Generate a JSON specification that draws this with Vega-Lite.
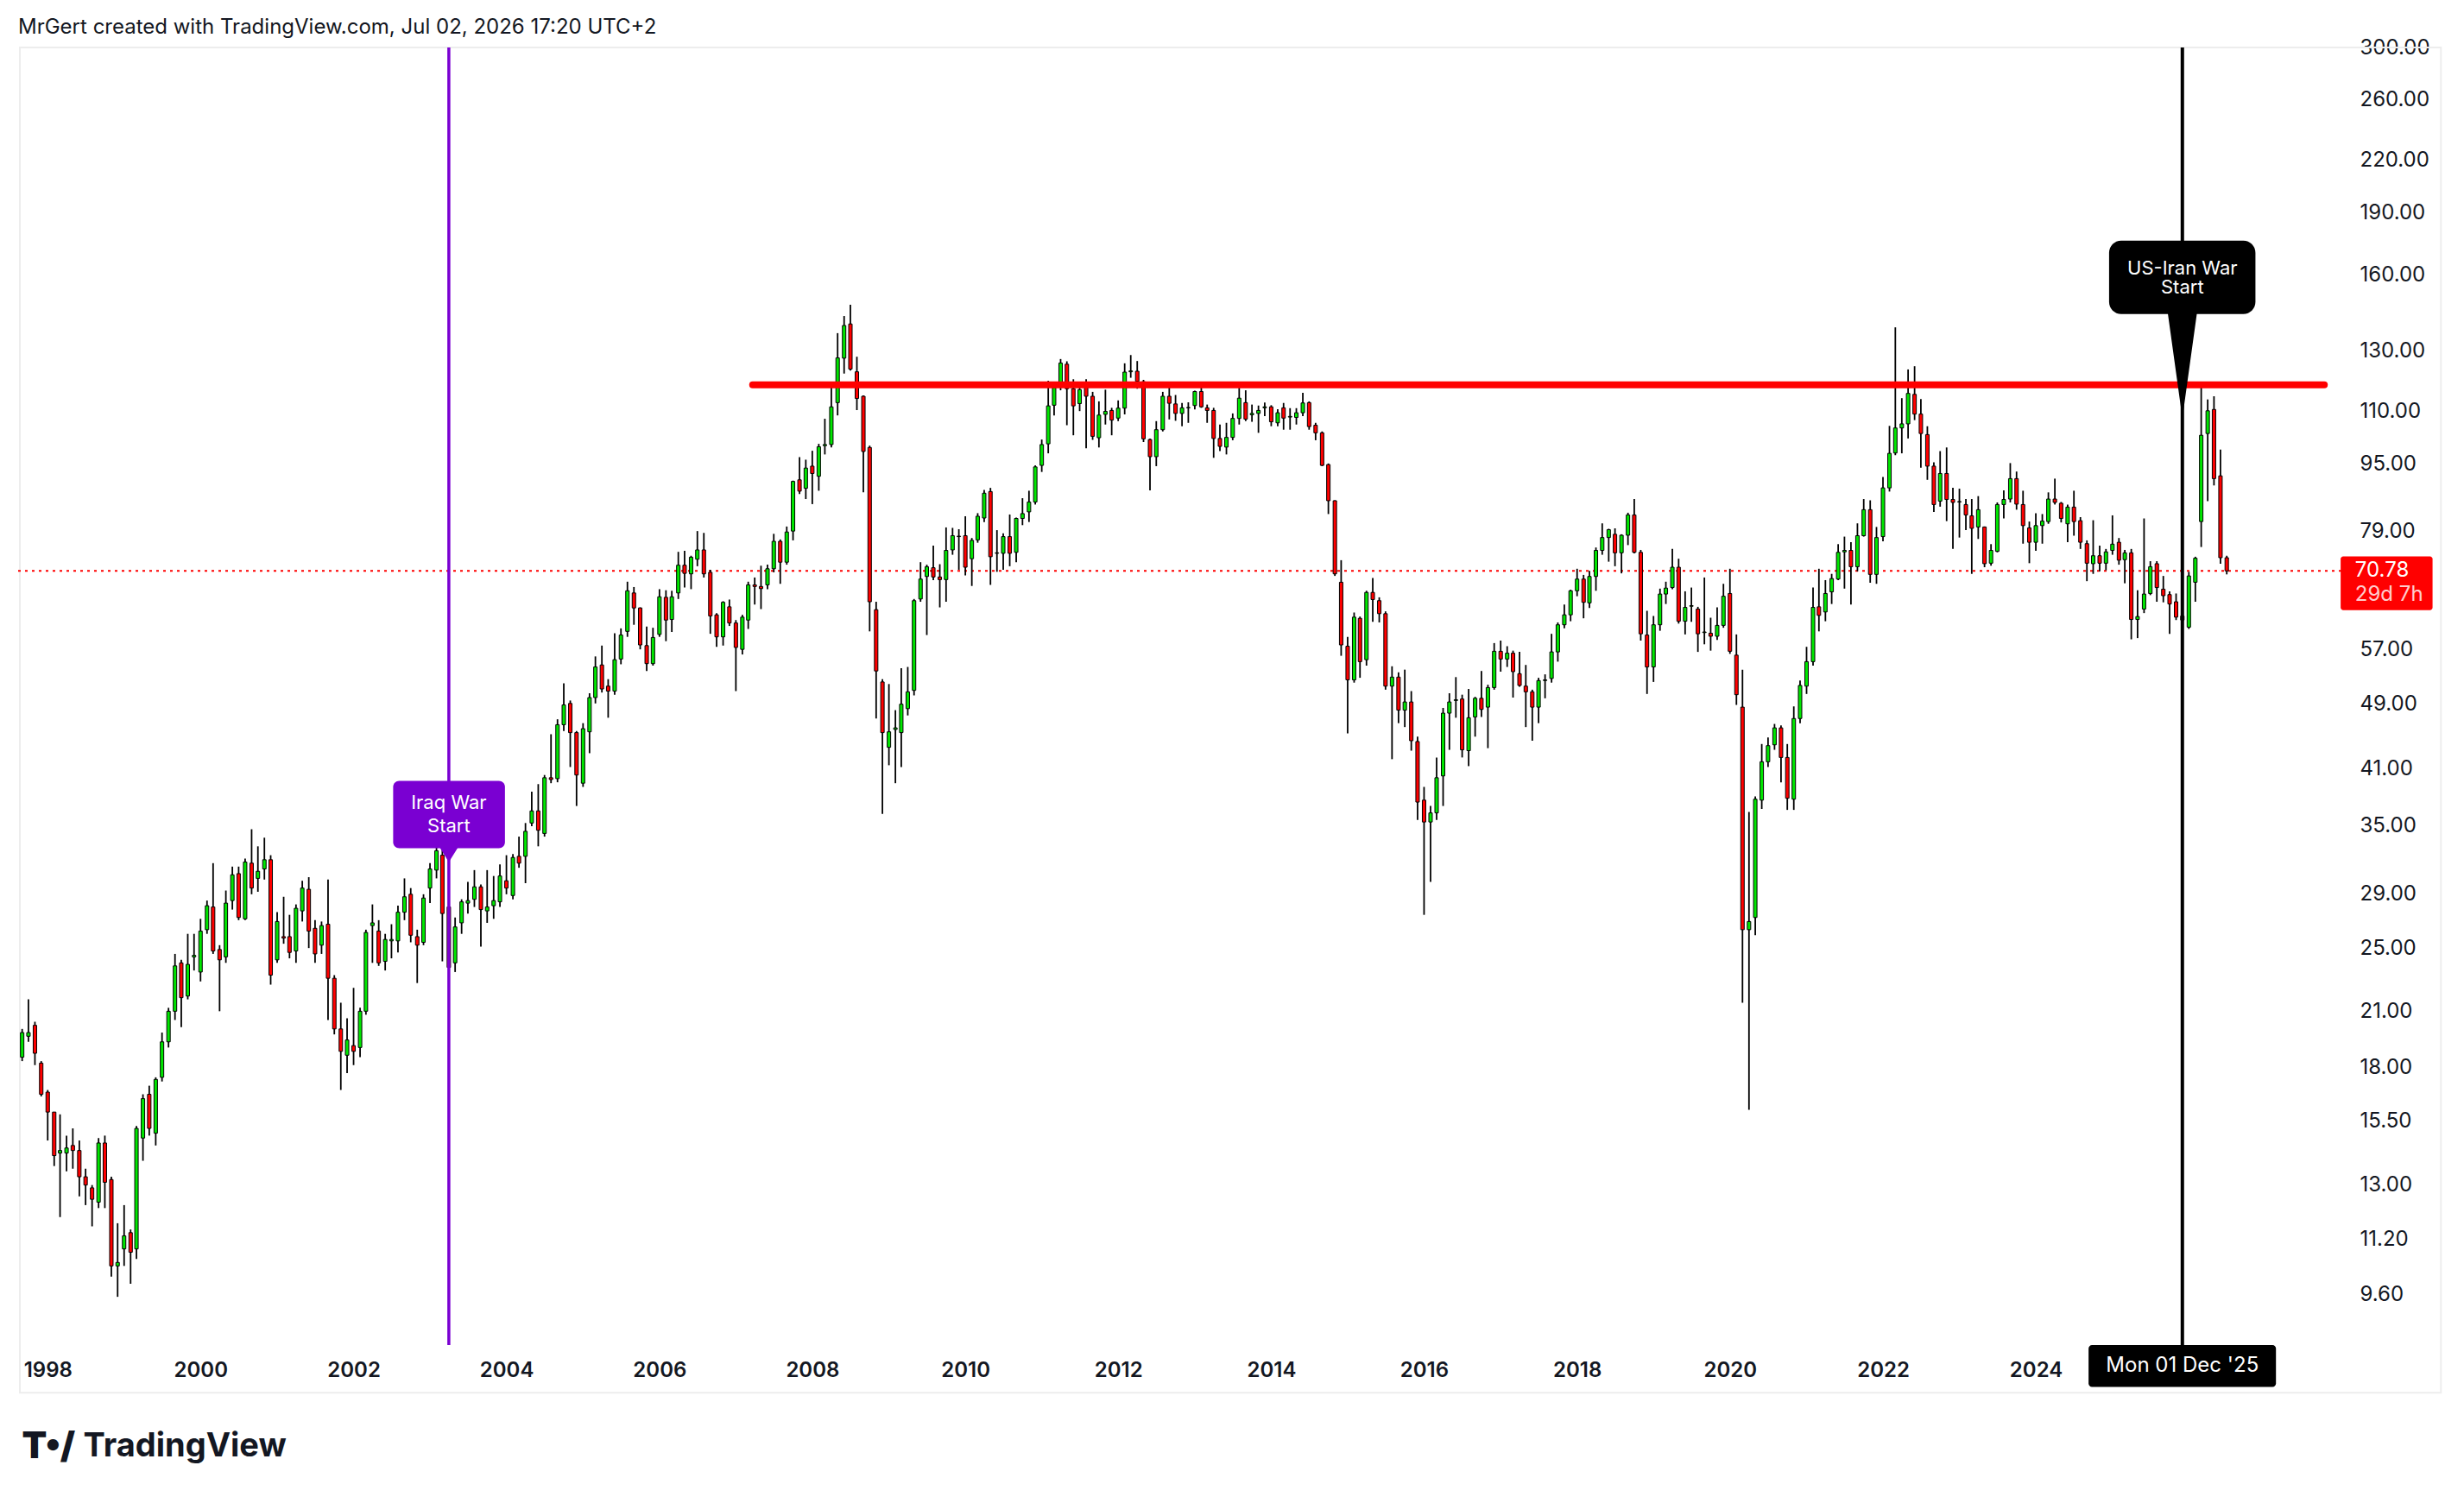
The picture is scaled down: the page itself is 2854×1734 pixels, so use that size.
{
  "$schema": "https://vega.github.io/schema/vega-lite/v6.json",
  "width": 2694,
  "height": 1503,
  "autosize": {"type": "none"},
  "padding": {"left": 18, "top": 55, "right": 142, "bottom": 176},
  "background": "#ffffff",
  "config": {"view": {"stroke": null}, "font": "Inter"},
  "title": {
    "text": "MrGert created with TradingView.com, Jul 02, 2026 17:20 UTC+2",
    "anchor": "start",
    "frame": "group",
    "font": "Inter",
    "fontSize": 24,
    "fontWeight": "normal",
    "color": "#131722",
    "offset": -1,
    "dx": 3
  },
  "datasets": {
    "ohlc": [
      {"t":"1997-09-01","o":18.5,"h":20.0,"l":18.3,"c":19.8},
      {"t":"1997-10-01","o":19.6,"h":21.7,"l":19.3,"c":19.8},
      {"t":"1997-11-01","o":20.2,"h":20.4,"l":18.1,"c":18.7},
      {"t":"1997-12-01","o":18.2,"h":18.3,"l":16.6,"c":16.7},
      {"t":"1998-01-01","o":16.8,"h":16.9,"l":14.7,"c":15.9},
      {"t":"1998-02-01","o":15.9,"h":15.9,"l":13.7,"c":14.1},
      {"t":"1998-03-01","o":14.2,"h":15.8,"l":11.9,"c":14.3},
      {"t":"1998-04-01","o":14.2,"h":14.9,"l":13.5,"c":14.4},
      {"t":"1998-05-01","o":14.5,"h":15.2,"l":13.6,"c":14.3},
      {"t":"1998-06-01","o":14.3,"h":14.7,"l":12.6,"c":13.3},
      {"t":"1998-07-01","o":13.3,"h":13.6,"l":12.3,"c":13.0},
      {"t":"1998-08-01","o":12.9,"h":13.0,"l":11.6,"c":12.5},
      {"t":"1998-09-01","o":12.4,"h":14.8,"l":12.2,"c":14.6},
      {"t":"1998-10-01","o":14.6,"h":14.9,"l":12.2,"c":13.1},
      {"t":"1998-11-01","o":13.2,"h":13.3,"l":10.1,"c":10.4},
      {"t":"1998-12-01","o":10.4,"h":11.7,"l":9.55,"c":10.5},
      {"t":"1999-01-01","o":10.9,"h":12.3,"l":10.4,"c":11.3},
      {"t":"1999-02-01","o":11.4,"h":11.5,"l":9.9,"c":10.8},
      {"t":"1999-03-01","o":10.9,"h":15.3,"l":10.6,"c":15.2},
      {"t":"1999-04-01","o":14.8,"h":16.7,"l":13.9,"c":16.5},
      {"t":"1999-05-01","o":16.7,"h":17.1,"l":14.9,"c":15.2},
      {"t":"1999-06-01","o":15.0,"h":17.5,"l":14.5,"c":17.4},
      {"t":"1999-07-01","o":17.5,"h":19.8,"l":17.3,"c":19.3},
      {"t":"1999-08-01","o":19.3,"h":21.2,"l":19.0,"c":21.0},
      {"t":"1999-09-01","o":21.0,"h":24.6,"l":20.5,"c":23.8},
      {"t":"1999-10-01","o":24.0,"h":24.2,"l":20.1,"c":21.8},
      {"t":"1999-11-01","o":21.9,"h":26.0,"l":21.7,"c":23.9},
      {"t":"1999-12-01","o":24.4,"h":26.0,"l":23.5,"c":24.5},
      {"t":"2000-01-01","o":23.4,"h":27.1,"l":22.8,"c":26.2},
      {"t":"2000-02-01","o":26.3,"h":28.5,"l":26.0,"c":28.1},
      {"t":"2000-03-01","o":28.0,"h":31.6,"l":24.6,"c":24.8},
      {"t":"2000-04-01","o":24.9,"h":25.2,"l":21.0,"c":24.2},
      {"t":"2000-05-01","o":24.4,"h":29.3,"l":24.0,"c":28.3},
      {"t":"2000-06-01","o":28.5,"h":31.3,"l":27.8,"c":30.6},
      {"t":"2000-07-01","o":30.7,"h":31.3,"l":27.0,"c":27.2},
      {"t":"2000-08-01","o":27.1,"h":32.0,"l":27.0,"c":31.7},
      {"t":"2000-09-01","o":31.6,"h":34.7,"l":29.0,"c":29.5},
      {"t":"2000-10-01","o":30.3,"h":33.1,"l":29.2,"c":30.9},
      {"t":"2000-11-01","o":31.1,"h":33.9,"l":30.2,"c":31.9},
      {"t":"2000-12-01","o":31.9,"h":32.3,"l":22.6,"c":23.2},
      {"t":"2001-01-01","o":24.2,"h":27.6,"l":24.0,"c":26.9},
      {"t":"2001-02-01","o":25.8,"h":28.8,"l":25.3,"c":25.7},
      {"t":"2001-03-01","o":25.8,"h":27.4,"l":24.3,"c":24.7},
      {"t":"2001-04-01","o":24.8,"h":28.2,"l":24.0,"c":27.9},
      {"t":"2001-05-01","o":27.7,"h":30.1,"l":26.9,"c":29.5},
      {"t":"2001-06-01","o":29.4,"h":30.4,"l":25.0,"c":26.2},
      {"t":"2001-07-01","o":26.4,"h":27.0,"l":24.0,"c":24.6},
      {"t":"2001-08-01","o":25.2,"h":26.9,"l":24.6,"c":26.6},
      {"t":"2001-09-01","o":26.7,"h":30.2,"l":20.5,"c":23.0},
      {"t":"2001-10-01","o":23.0,"h":23.2,"l":19.7,"c":20.0},
      {"t":"2001-11-01","o":20.0,"h":21.5,"l":16.9,"c":18.8},
      {"t":"2001-12-01","o":18.6,"h":20.6,"l":17.7,"c":19.4},
      {"t":"2002-01-01","o":19.1,"h":22.4,"l":18.1,"c":18.8},
      {"t":"2002-02-01","o":19.0,"h":21.2,"l":18.5,"c":21.0},
      {"t":"2002-03-01","o":21.0,"h":26.3,"l":20.8,"c":26.1},
      {"t":"2002-04-01","o":26.6,"h":28.2,"l":24.0,"c":26.8},
      {"t":"2002-05-01","o":26.2,"h":27.0,"l":23.8,"c":24.0},
      {"t":"2002-06-01","o":24.1,"h":26.0,"l":23.5,"c":25.6},
      {"t":"2002-07-01","o":25.5,"h":26.7,"l":24.3,"c":25.6},
      {"t":"2002-08-01","o":25.5,"h":28.1,"l":24.7,"c":27.6},
      {"t":"2002-09-01","o":27.6,"h":30.3,"l":27.0,"c":28.8},
      {"t":"2002-10-01","o":29.0,"h":29.5,"l":25.4,"c":25.9},
      {"t":"2002-11-01","o":25.8,"h":26.3,"l":22.7,"c":25.2},
      {"t":"2002-12-01","o":25.4,"h":29.0,"l":25.2,"c":28.7},
      {"t":"2003-01-01","o":29.5,"h":31.6,"l":28.3,"c":31.1},
      {"t":"2003-02-01","o":31.0,"h":33.8,"l":30.3,"c":32.7},
      {"t":"2003-03-01","o":32.3,"h":34.6,"l":24.1,"c":27.5},
      {"t":"2003-04-01","o":28.0,"h":28.3,"l":23.1,"c":23.7},
      {"t":"2003-05-01","o":24.0,"h":27.2,"l":23.4,"c":26.5},
      {"t":"2003-06-01","o":26.8,"h":28.6,"l":26.0,"c":28.4},
      {"t":"2003-07-01","o":28.3,"h":30.0,"l":27.5,"c":28.5},
      {"t":"2003-08-01","o":28.6,"h":31.0,"l":28.0,"c":29.6},
      {"t":"2003-09-01","o":29.6,"h":29.8,"l":25.1,"c":27.8},
      {"t":"2003-10-01","o":27.7,"h":31.0,"l":26.8,"c":28.0},
      {"t":"2003-11-01","o":28.1,"h":30.5,"l":27.1,"c":28.5},
      {"t":"2003-12-01","o":28.4,"h":31.5,"l":28.0,"c":30.5},
      {"t":"2004-01-01","o":30.1,"h":32.3,"l":29.0,"c":29.5},
      {"t":"2004-02-01","o":28.9,"h":32.4,"l":28.6,"c":32.1},
      {"t":"2004-03-01","o":32.2,"h":34.0,"l":31.2,"c":31.6},
      {"t":"2004-04-01","o":32.2,"h":35.3,"l":29.9,"c":34.5},
      {"t":"2004-05-01","o":35.3,"h":38.5,"l":35.0,"c":36.5},
      {"t":"2004-06-01","o":36.5,"h":39.3,"l":33.1,"c":34.6},
      {"t":"2004-07-01","o":34.3,"h":40.3,"l":34.0,"c":40.0},
      {"t":"2004-08-01","o":40.0,"h":45.1,"l":39.4,"c":39.8},
      {"t":"2004-09-01","o":39.9,"h":47.0,"l":39.5,"c":46.3},
      {"t":"2004-10-01","o":46.3,"h":51.9,"l":45.5,"c":48.9},
      {"t":"2004-11-01","o":49.1,"h":49.5,"l":41.2,"c":45.3},
      {"t":"2004-12-01","o":45.3,"h":45.5,"l":37.0,"c":40.3},
      {"t":"2005-01-01","o":39.4,"h":46.5,"l":39.0,"c":45.8},
      {"t":"2005-02-01","o":45.4,"h":50.5,"l":42.8,"c":49.9},
      {"t":"2005-03-01","o":49.9,"h":55.9,"l":49.1,"c":54.3},
      {"t":"2005-04-01","o":54.6,"h":57.6,"l":50.6,"c":51.1},
      {"t":"2005-05-01","o":51.5,"h":52.5,"l":47.2,"c":50.8},
      {"t":"2005-06-01","o":50.8,"h":59.6,"l":50.3,"c":55.4},
      {"t":"2005-07-01","o":55.5,"h":60.4,"l":54.7,"c":59.3},
      {"t":"2005-08-01","o":59.9,"h":68.7,"l":59.0,"c":67.0},
      {"t":"2005-09-01","o":66.6,"h":67.7,"l":61.0,"c":63.9},
      {"t":"2005-10-01","o":63.9,"h":64.0,"l":57.0,"c":57.7},
      {"t":"2005-11-01","o":57.6,"h":60.7,"l":53.7,"c":54.8},
      {"t":"2005-12-01","o":54.8,"h":60.5,"l":54.5,"c":58.9},
      {"t":"2006-01-01","o":59.4,"h":67.3,"l":59.0,"c":65.9},
      {"t":"2006-02-01","o":65.8,"h":67.1,"l":58.3,"c":61.8},
      {"t":"2006-03-01","o":61.9,"h":67.0,"l":59.8,"c":65.9},
      {"t":"2006-04-01","o":66.6,"h":74.6,"l":65.5,"c":71.9},
      {"t":"2006-05-01","o":71.9,"h":74.8,"l":67.6,"c":70.3},
      {"t":"2006-06-01","o":70.2,"h":73.8,"l":67.3,"c":73.5},
      {"t":"2006-07-01","o":73.1,"h":79.0,"l":71.7,"c":75.0},
      {"t":"2006-08-01","o":75.0,"h":78.6,"l":69.5,"c":70.2},
      {"t":"2006-09-01","o":70.5,"h":71.0,"l":59.5,"c":62.5},
      {"t":"2006-10-01","o":62.7,"h":63.0,"l":57.4,"c":59.0},
      {"t":"2006-11-01","o":59.0,"h":65.1,"l":57.6,"c":64.9},
      {"t":"2006-12-01","o":64.1,"h":65.4,"l":60.8,"c":61.3},
      {"t":"2007-01-01","o":61.3,"h":61.8,"l":50.8,"c":57.3},
      {"t":"2007-02-01","o":57.0,"h":62.7,"l":56.2,"c":62.3},
      {"t":"2007-03-01","o":61.8,"h":68.7,"l":60.3,"c":68.1},
      {"t":"2007-04-01","o":68.1,"h":69.5,"l":64.5,"c":67.8},
      {"t":"2007-05-01","o":67.8,"h":71.8,"l":63.7,"c":67.4},
      {"t":"2007-06-01","o":68.1,"h":72.0,"l":67.3,"c":71.2},
      {"t":"2007-07-01","o":71.2,"h":78.4,"l":70.5,"c":76.8},
      {"t":"2007-08-01","o":76.8,"h":77.2,"l":68.3,"c":72.5},
      {"t":"2007-09-01","o":72.5,"h":80.0,"l":72.0,"c":78.8},
      {"t":"2007-10-01","o":79.0,"h":90.8,"l":77.0,"c":90.6},
      {"t":"2007-11-01","o":91.0,"h":96.9,"l":87.5,"c":88.2},
      {"t":"2007-12-01","o":88.9,"h":96.2,"l":86.3,"c":94.0},
      {"t":"2008-01-01","o":94.5,"h":98.6,"l":85.1,"c":92.6},
      {"t":"2008-02-01","o":91.9,"h":100.5,"l":88.3,"c":99.7},
      {"t":"2008-03-01","o":100.0,"h":107.7,"l":97.6,"c":100.3},
      {"t":"2008-04-01","o":100.3,"h":117.9,"l":99.5,"c":111.3},
      {"t":"2008-05-01","o":112.6,"h":136.4,"l":108.7,"c":127.4},
      {"t":"2008-06-01","o":127.3,"h":143.0,"l":122.0,"c":139.3},
      {"t":"2008-07-01","o":139.9,"h":147.5,"l":123.0,"c":123.5},
      {"t":"2008-08-01","o":122.6,"h":127.8,"l":110.3,"c":113.9},
      {"t":"2008-09-01","o":114.6,"h":114.9,"l":87.9,"c":98.4},
      {"t":"2008-10-01","o":99.5,"h":100.0,"l":59.9,"c":65.0},
      {"t":"2008-11-01","o":63.6,"h":65.0,"l":47.1,"c":53.7},
      {"t":"2008-12-01","o":52.1,"h":52.5,"l":36.2,"c":45.3},
      {"t":"2009-01-01","o":43.5,"h":51.8,"l":41.4,"c":45.4},
      {"t":"2009-02-01","o":45.7,"h":48.2,"l":39.4,"c":45.9},
      {"t":"2009-03-01","o":45.3,"h":54.1,"l":41.2,"c":49.0},
      {"t":"2009-04-01","o":48.4,"h":54.3,"l":47.5,"c":50.7},
      {"t":"2009-05-01","o":50.9,"h":65.5,"l":50.2,"c":65.2},
      {"t":"2009-06-01","o":65.5,"h":72.5,"l":65.0,"c":69.2},
      {"t":"2009-07-01","o":69.7,"h":72.0,"l":59.3,"c":71.6},
      {"t":"2009-08-01","o":71.4,"h":75.9,"l":69.0,"c":69.6},
      {"t":"2009-09-01","o":69.6,"h":72.1,"l":64.0,"c":69.1},
      {"t":"2009-10-01","o":69.1,"h":79.8,"l":65.0,"c":74.9},
      {"t":"2009-11-01","o":75.0,"h":79.7,"l":74.0,"c":78.0},
      {"t":"2009-12-01","o":77.9,"h":79.4,"l":71.0,"c":77.8},
      {"t":"2010-01-01","o":78.0,"h":82.3,"l":69.9,"c":71.5},
      {"t":"2010-02-01","o":73.2,"h":77.5,"l":67.9,"c":77.0},
      {"t":"2010-03-01","o":77.1,"h":83.0,"l":76.5,"c":82.3},
      {"t":"2010-04-01","o":81.9,"h":88.5,"l":81.0,"c":87.7},
      {"t":"2010-05-01","o":88.1,"h":89.0,"l":68.1,"c":73.6},
      {"t":"2010-06-01","o":74.3,"h":79.2,"l":70.6,"c":74.4},
      {"t":"2010-07-01","o":74.3,"h":78.5,"l":71.0,"c":77.8},
      {"t":"2010-08-01","o":77.8,"h":82.7,"l":71.7,"c":74.3},
      {"t":"2010-09-01","o":74.5,"h":82.0,"l":72.5,"c":81.8},
      {"t":"2010-10-01","o":81.8,"h":86.5,"l":80.3,"c":82.9},
      {"t":"2010-11-01","o":83.3,"h":88.3,"l":81.0,"c":85.6},
      {"t":"2010-12-01","o":85.6,"h":94.7,"l":85.0,"c":94.3},
      {"t":"2011-01-01","o":94.7,"h":101.7,"l":93.0,"c":100.3},
      {"t":"2011-02-01","o":100.5,"h":119.6,"l":97.9,"c":111.6},
      {"t":"2011-03-01","o":111.8,"h":118.0,"l":108.7,"c":117.4},
      {"t":"2011-04-01","o":117.9,"h":127.0,"l":116.5,"c":125.6},
      {"t":"2011-05-01","o":125.2,"h":126.2,"l":105.8,"c":117.0},
      {"t":"2011-06-01","o":117.0,"h":120.1,"l":102.9,"c":111.6},
      {"t":"2011-07-01","o":112.3,"h":119.0,"l":110.0,"c":116.7},
      {"t":"2011-08-01","o":118.1,"h":120.1,"l":99.3,"c":114.6},
      {"t":"2011-09-01","o":114.6,"h":116.0,"l":101.6,"c":102.6},
      {"t":"2011-10-01","o":102.2,"h":113.0,"l":99.5,"c":108.8},
      {"t":"2011-11-01","o":109.0,"h":116.7,"l":106.0,"c":109.9},
      {"t":"2011-12-01","o":110.2,"h":111.0,"l":102.9,"c":107.3},
      {"t":"2012-01-01","o":107.9,"h":113.3,"l":107.0,"c":110.9},
      {"t":"2012-02-01","o":110.9,"h":125.5,"l":109.0,"c":122.5},
      {"t":"2012-03-01","o":122.6,"h":128.4,"l":120.6,"c":122.9},
      {"t":"2012-04-01","o":122.8,"h":126.3,"l":117.0,"c":119.4},
      {"t":"2012-05-01","o":119.3,"h":119.9,"l":101.0,"c":101.9},
      {"t":"2012-06-01","o":101.7,"h":102.0,"l":88.4,"c":97.0},
      {"t":"2012-07-01","o":97.0,"h":107.0,"l":94.5,"c":104.5},
      {"t":"2012-08-01","o":104.5,"h":116.0,"l":104.0,"c":114.6},
      {"t":"2012-09-01","o":114.6,"h":117.9,"l":107.5,"c":112.4},
      {"t":"2012-10-01","o":112.2,"h":115.0,"l":107.1,"c":109.3},
      {"t":"2012-11-01","o":109.3,"h":112.5,"l":105.5,"c":111.0},
      {"t":"2012-12-01","o":111.0,"h":112.7,"l":106.5,"c":111.1},
      {"t":"2013-01-01","o":111.7,"h":116.4,"l":110.5,"c":116.1},
      {"t":"2013-02-01","o":116.1,"h":119.2,"l":111.0,"c":111.3},
      {"t":"2013-03-01","o":111.0,"h":112.0,"l":106.5,"c":110.2},
      {"t":"2013-04-01","o":110.2,"h":111.0,"l":96.7,"c":102.0},
      {"t":"2013-05-01","o":102.0,"h":106.0,"l":98.5,"c":99.8},
      {"t":"2013-06-01","o":99.6,"h":106.5,"l":97.6,"c":102.3},
      {"t":"2013-07-01","o":102.3,"h":109.3,"l":101.5,"c":107.8},
      {"t":"2013-08-01","o":107.8,"h":117.3,"l":106.0,"c":114.0},
      {"t":"2013-09-01","o":112.6,"h":116.5,"l":107.0,"c":107.6},
      {"t":"2013-10-01","o":108.9,"h":112.0,"l":106.8,"c":109.3},
      {"t":"2013-11-01","o":109.3,"h":111.7,"l":103.6,"c":110.2},
      {"t":"2013-12-01","o":111.0,"h":112.6,"l":108.5,"c":111.3},
      {"t":"2014-01-01","o":111.3,"h":111.8,"l":105.5,"c":106.8},
      {"t":"2014-02-01","o":106.5,"h":110.6,"l":105.5,"c":109.5},
      {"t":"2014-03-01","o":111.0,"h":112.5,"l":104.5,"c":107.9},
      {"t":"2014-04-01","o":108.2,"h":110.9,"l":104.5,"c":108.4},
      {"t":"2014-05-01","o":108.1,"h":110.9,"l":106.0,"c":109.5},
      {"t":"2014-06-01","o":109.5,"h":115.7,"l":108.5,"c":112.5},
      {"t":"2014-07-01","o":112.6,"h":113.0,"l":104.5,"c":105.4},
      {"t":"2014-08-01","o":105.8,"h":106.5,"l":101.5,"c":103.6},
      {"t":"2014-09-01","o":103.6,"h":104.0,"l":94.5,"c":94.7},
      {"t":"2014-10-01","o":94.9,"h":95.2,"l":82.8,"c":85.9},
      {"t":"2014-11-01","o":85.9,"h":86.0,"l":69.8,"c":70.2},
      {"t":"2014-12-01","o":68.6,"h":72.9,"l":56.0,"c":57.7},
      {"t":"2015-01-01","o":57.5,"h":59.0,"l":45.2,"c":52.4},
      {"t":"2015-02-01","o":52.4,"h":63.1,"l":52.0,"c":62.3},
      {"t":"2015-03-01","o":62.1,"h":62.4,"l":52.7,"c":55.1},
      {"t":"2015-04-01","o":55.4,"h":67.0,"l":54.5,"c":66.7},
      {"t":"2015-05-01","o":66.7,"h":69.4,"l":61.5,"c":65.4},
      {"t":"2015-06-01","o":65.2,"h":65.8,"l":61.4,"c":62.9},
      {"t":"2015-07-01","o":62.9,"h":63.3,"l":51.0,"c":51.5},
      {"t":"2015-08-01","o":51.5,"h":54.4,"l":42.1,"c":52.8},
      {"t":"2015-09-01","o":52.8,"h":53.5,"l":46.5,"c":48.2},
      {"t":"2015-10-01","o":48.2,"h":53.9,"l":46.0,"c":49.3},
      {"t":"2015-11-01","o":49.3,"h":50.8,"l":43.1,"c":44.3},
      {"t":"2015-12-01","o":44.2,"h":44.8,"l":35.6,"c":37.4},
      {"t":"2016-01-01","o":37.6,"h":39.0,"l":27.4,"c":35.4},
      {"t":"2016-02-01","o":35.4,"h":37.0,"l":30.0,"c":36.3},
      {"t":"2016-03-01","o":36.3,"h":42.3,"l":35.6,"c":40.0},
      {"t":"2016-04-01","o":40.2,"h":48.5,"l":37.0,"c":47.8},
      {"t":"2016-05-01","o":47.8,"h":50.5,"l":43.2,"c":49.3},
      {"t":"2016-06-01","o":49.5,"h":52.8,"l":47.2,"c":49.6},
      {"t":"2016-07-01","o":49.7,"h":50.3,"l":42.3,"c":43.2},
      {"t":"2016-08-01","o":43.1,"h":51.1,"l":41.3,"c":47.2},
      {"t":"2016-09-01","o":47.3,"h":50.0,"l":44.8,"c":49.8},
      {"t":"2016-10-01","o":49.8,"h":53.7,"l":47.3,"c":48.3},
      {"t":"2016-11-01","o":48.6,"h":51.7,"l":43.4,"c":51.3},
      {"t":"2016-12-01","o":51.3,"h":58.0,"l":51.0,"c":56.7},
      {"t":"2017-01-01","o":56.7,"h":58.4,"l":53.6,"c":55.5},
      {"t":"2017-02-01","o":55.5,"h":57.5,"l":54.3,"c":56.4},
      {"t":"2017-03-01","o":56.4,"h":56.8,"l":49.9,"c":53.6},
      {"t":"2017-04-01","o":53.3,"h":56.6,"l":51.4,"c":51.6},
      {"t":"2017-05-01","o":51.5,"h":54.6,"l":46.0,"c":50.7},
      {"t":"2017-06-01","o":50.7,"h":51.0,"l":44.3,"c":48.6},
      {"t":"2017-07-01","o":48.6,"h":52.7,"l":46.5,"c":52.3},
      {"t":"2017-08-01","o":52.3,"h":53.2,"l":49.8,"c":52.4},
      {"t":"2017-09-01","o":52.6,"h":59.5,"l":52.0,"c":56.6},
      {"t":"2017-10-01","o":56.6,"h":61.4,"l":55.1,"c":61.0},
      {"t":"2017-11-01","o":61.0,"h":64.5,"l":60.4,"c":62.7},
      {"t":"2017-12-01","o":62.7,"h":67.2,"l":61.6,"c":67.0},
      {"t":"2018-01-01","o":67.0,"h":71.2,"l":66.0,"c":69.2},
      {"t":"2018-02-01","o":69.2,"h":70.0,"l":62.1,"c":64.9},
      {"t":"2018-03-01","o":64.8,"h":70.8,"l":63.9,"c":69.7},
      {"t":"2018-04-01","o":69.7,"h":75.5,"l":67.0,"c":74.9},
      {"t":"2018-05-01","o":74.9,"h":80.7,"l":74.0,"c":77.6},
      {"t":"2018-06-01","o":77.6,"h":79.5,"l":72.6,"c":79.3},
      {"t":"2018-07-01","o":78.3,"h":79.6,"l":71.7,"c":74.4},
      {"t":"2018-08-01","o":74.4,"h":78.3,"l":70.3,"c":78.1},
      {"t":"2018-09-01","o":78.1,"h":83.1,"l":76.0,"c":82.6},
      {"t":"2018-10-01","o":82.6,"h":86.3,"l":74.3,"c":74.5},
      {"t":"2018-11-01","o":74.5,"h":75.0,"l":58.4,"c":59.5},
      {"t":"2018-12-01","o":59.3,"h":63.4,"l":50.4,"c":54.3},
      {"t":"2019-01-01","o":54.3,"h":62.5,"l":52.1,"c":61.0},
      {"t":"2019-02-01","o":61.0,"h":67.4,"l":60.0,"c":66.4},
      {"t":"2019-03-01","o":66.4,"h":68.7,"l":64.6,"c":67.5},
      {"t":"2019-04-01","o":67.6,"h":75.2,"l":67.3,"c":71.5},
      {"t":"2019-05-01","o":71.5,"h":73.2,"l":61.2,"c":61.6},
      {"t":"2019-06-01","o":61.6,"h":66.9,"l":59.4,"c":64.0},
      {"t":"2019-07-01","o":64.2,"h":67.6,"l":61.5,"c":64.3},
      {"t":"2019-08-01","o":63.7,"h":64.1,"l":56.6,"c":59.5},
      {"t":"2019-09-01","o":59.7,"h":69.5,"l":57.8,"c":59.8},
      {"t":"2019-10-01","o":59.6,"h":62.2,"l":56.8,"c":59.1},
      {"t":"2019-11-01","o":59.1,"h":64.0,"l":58.5,"c":60.9},
      {"t":"2019-12-01","o":60.9,"h":68.3,"l":60.5,"c":66.0},
      {"t":"2020-01-01","o":66.5,"h":71.2,"l":56.3,"c":56.7},
      {"t":"2020-02-01","o":56.1,"h":59.4,"l":48.9,"c":50.3},
      {"t":"2020-03-01","o":48.6,"h":53.9,"l":21.5,"c":26.3},
      {"t":"2020-04-01","o":26.3,"h":36.4,"l":16.0,"c":26.9},
      {"t":"2020-05-01","o":27.2,"h":38.0,"l":25.9,"c":37.7},
      {"t":"2020-06-01","o":37.6,"h":43.9,"l":36.7,"c":41.8},
      {"t":"2020-07-01","o":41.8,"h":44.7,"l":41.2,"c":43.7},
      {"t":"2020-08-01","o":43.8,"h":46.4,"l":43.2,"c":45.9},
      {"t":"2020-09-01","o":45.9,"h":46.2,"l":39.5,"c":42.3},
      {"t":"2020-10-01","o":42.3,"h":43.9,"l":36.6,"c":37.8},
      {"t":"2020-11-01","o":37.7,"h":48.7,"l":36.6,"c":47.1},
      {"t":"2020-12-01","o":47.1,"h":52.3,"l":46.5,"c":51.6},
      {"t":"2021-01-01","o":51.5,"h":57.4,"l":50.4,"c":55.1},
      {"t":"2021-02-01","o":55.1,"h":67.6,"l":54.5,"c":64.0},
      {"t":"2021-03-01","o":64.1,"h":71.2,"l":59.9,"c":62.6},
      {"t":"2021-04-01","o":63.2,"h":69.0,"l":61.6,"c":66.5},
      {"t":"2021-05-01","o":66.8,"h":70.2,"l":64.6,"c":69.3},
      {"t":"2021-06-01","o":69.2,"h":76.2,"l":69.0,"c":74.5},
      {"t":"2021-07-01","o":74.6,"h":77.8,"l":67.4,"c":74.9},
      {"t":"2021-08-01","o":74.9,"h":76.6,"l":64.5,"c":71.6},
      {"t":"2021-09-01","o":71.6,"h":80.7,"l":70.7,"c":78.0},
      {"t":"2021-10-01","o":78.0,"h":86.3,"l":77.8,"c":83.8},
      {"t":"2021-11-01","o":83.8,"h":86.0,"l":68.5,"c":70.1},
      {"t":"2021-12-01","o":70.1,"h":79.9,"l":68.3,"c":77.6},
      {"t":"2022-01-01","o":77.8,"h":91.7,"l":76.8,"c":89.0},
      {"t":"2022-02-01","o":89.0,"h":105.6,"l":88.1,"c":97.9},
      {"t":"2022-03-01","o":98.0,"h":138.6,"l":97.4,"c":105.0},
      {"t":"2022-04-01","o":105.0,"h":114.0,"l":97.9,"c":106.2},
      {"t":"2022-05-01","o":106.2,"h":123.4,"l":102.0,"c":115.5},
      {"t":"2022-06-01","o":115.2,"h":124.5,"l":107.3,"c":109.1},
      {"t":"2022-07-01","o":109.1,"h":113.7,"l":94.1,"c":103.4},
      {"t":"2022-08-01","o":103.1,"h":105.5,"l":91.0,"c":94.5},
      {"t":"2022-09-01","o":94.5,"h":95.5,"l":83.3,"c":85.0},
      {"t":"2022-10-01","o":85.8,"h":98.5,"l":84.5,"c":92.6},
      {"t":"2022-11-01","o":92.6,"h":99.5,"l":81.2,"c":86.2},
      {"t":"2022-12-01","o":86.2,"h":89.0,"l":75.2,"c":85.5},
      {"t":"2023-01-01","o":85.6,"h":88.8,"l":77.6,"c":85.7},
      {"t":"2023-02-01","o":85.0,"h":86.3,"l":79.2,"c":82.6},
      {"t":"2023-03-01","o":82.4,"h":86.3,"l":70.2,"c":79.6},
      {"t":"2023-04-01","o":79.9,"h":87.0,"l":77.3,"c":83.8},
      {"t":"2023-05-01","o":79.9,"h":80.0,"l":71.5,"c":72.2},
      {"t":"2023-06-01","o":72.3,"h":76.2,"l":71.8,"c":74.9},
      {"t":"2023-07-01","o":74.7,"h":85.5,"l":74.5,"c":85.0},
      {"t":"2023-08-01","o":85.0,"h":88.4,"l":81.8,"c":86.2},
      {"t":"2023-09-01","o":86.3,"h":95.3,"l":85.5,"c":91.3},
      {"t":"2023-10-01","o":91.3,"h":93.1,"l":83.8,"c":85.1},
      {"t":"2023-11-01","o":85.0,"h":88.3,"l":76.3,"c":80.2},
      {"t":"2023-12-01","o":79.7,"h":81.1,"l":72.3,"c":76.6},
      {"t":"2024-01-01","o":76.6,"h":83.0,"l":74.8,"c":80.2},
      {"t":"2024-02-01","o":80.2,"h":82.8,"l":76.3,"c":81.2},
      {"t":"2024-03-01","o":81.1,"h":87.9,"l":80.6,"c":86.3},
      {"t":"2024-04-01","o":86.3,"h":91.3,"l":85.0,"c":85.5},
      {"t":"2024-05-01","o":85.3,"h":85.6,"l":80.9,"c":81.8},
      {"t":"2024-06-01","o":80.6,"h":85.0,"l":76.6,"c":84.4},
      {"t":"2024-07-01","o":84.4,"h":88.3,"l":78.0,"c":81.1},
      {"t":"2024-08-01","o":81.3,"h":82.1,"l":75.2,"c":76.6},
      {"t":"2024-09-01","o":76.3,"h":77.0,"l":68.8,"c":72.3},
      {"t":"2024-10-01","o":72.2,"h":81.4,"l":70.2,"c":73.8},
      {"t":"2024-11-01","o":73.8,"h":75.9,"l":70.7,"c":72.3},
      {"t":"2024-12-01","o":72.3,"h":75.2,"l":70.9,"c":74.6},
      {"t":"2025-01-01","o":74.9,"h":82.5,"l":74.0,"c":76.2},
      {"t":"2025-02-01","o":76.6,"h":77.5,"l":72.0,"c":72.9},
      {"t":"2025-03-01","o":73.0,"h":75.0,"l":68.4,"c":74.4},
      {"t":"2025-04-01","o":74.4,"h":75.2,"l":58.6,"c":61.9},
      {"t":"2025-05-01","o":61.9,"h":67.1,"l":58.8,"c":62.4},
      {"t":"2025-06-01","o":63.7,"h":81.8,"l":63.0,"c":66.4},
      {"t":"2025-07-01","o":66.5,"h":72.7,"l":66.2,"c":71.6},
      {"t":"2025-08-01","o":72.2,"h":72.7,"l":65.0,"c":67.6},
      {"t":"2025-09-01","o":67.3,"h":69.8,"l":64.9,"c":66.1},
      {"t":"2025-10-01","o":66.3,"h":66.9,"l":59.5,"c":64.6},
      {"t":"2025-11-01","o":65.0,"h":66.5,"l":61.8,"c":62.3},
      {"t":"2025-12-01","o":62.5,"h":63.5,"l":59.8,"c":61.8},
      {"t":"2026-01-01","o":60.6,"h":70.6,"l":60.3,"c":69.8},
      {"t":"2026-02-01","o":68.6,"h":73.6,"l":65.0,"c":73.3},
      {"t":"2026-03-01","o":81.1,"h":118.2,"l":75.6,"c":102.9},
      {"t":"2026-04-01","o":103.4,"h":113.6,"l":85.8,"c":110.1},
      {"t":"2026-05-01","o":110.5,"h":114.6,"l":89.6,"c":91.3},
      {"t":"2026-06-01","o":92.0,"h":98.9,"l":72.2,"c":73.4},
      {"t":"2026-07-01","o":73.4,"h":73.8,"l":70.1,"c":70.78}
    ]
  },
  "layer": [
    {
      "data": {"values": [{"a": "1997-08-21", "b": "2029-04-19", "top": 300, "bot": 7.33}]},
      "mark": {"type": "rect", "fill": null, "fillOpacity": 0, "stroke": "#ededed", "strokeWidth": 2},
      "encoding": {
        "x": {"field": "a", "type": "temporal"},
        "x2": {"field": "b"},
        "y": {"field": "top", "type": "quantitative"},
        "y2": {"field": "bot"}
      }
    },
    {
      "data": {"values": [{"p": 70.78}]},
      "mark": {"type": "rule", "color": "#ff0000", "strokeWidth": 2, "strokeDash": [3, 5]},
      "encoding": {"y": {"field": "p", "type": "quantitative"}}
    },
    {
      "data": {"name": "ohlc"},
      "mark": {"type": "rule", "color": "#000000", "strokeWidth": 1.8},
      "encoding": {
        "x": {
          "field": "t",
          "type": "temporal",
          "scale": {
            "type": "utc",
            "domain": [
              {"year": 1997, "month": 8, "date": 21, "utc": true},
              {"year": 2027, "month": 12, "date": 10, "utc": true}
            ]
          },
          "axis": {
            "values": [
              {"year": 1998, "utc": true}, {"year": 2000, "utc": true}, {"year": 2002, "utc": true},
              {"year": 2004, "utc": true}, {"year": 2006, "utc": true}, {"year": 2008, "utc": true},
              {"year": 2010, "utc": true}, {"year": 2012, "utc": true}, {"year": 2014, "utc": true},
              {"year": 2016, "utc": true}, {"year": 2018, "utc": true}, {"year": 2020, "utc": true},
              {"year": 2022, "utc": true}, {"year": 2024, "utc": true}
            ],
            "format": "%Y",
            "grid": false,
            "ticks": false,
            "domain": false,
            "labelFont": "Inter",
            "labelFontSize": 24,
            "labelFontWeight": 600,
            "labelColor": "#131722",
            "labelBaseline": "middle",
            "labelPadding": 29,
            "labelFlush": false,
            "labelOverlap": false,
            "title": "TradingView",
            "titleFont": "Inter",
            "titleFontSize": 38,
            "titleFontWeight": 700,
            "titleColor": "#131722",
            "titleAlign": "left",
            "titleBaseline": "middle",
            "titleX": 78,
            "titleY": 117
          }
        },
        "y": {
          "field": "l",
          "type": "quantitative",
          "scale": {"type": "log", "domain": [8.36, 300], "nice": false, "zero": false},
          "axis": {
            "orient": "right",
            "values": [9.6, 11.2, 13, 15.5, 18, 21, 25, 29, 35, 41, 49, 57, 79, 95, 110, 130, 160, 190, 220, 260, 300],
            "format": ".2f",
            "grid": false,
            "ticks": false,
            "domain": false,
            "labelFont": "Inter",
            "labelFontSize": 24,
            "labelColor": "#131722",
            "labelAlign": "left",
            "labelBaseline": "middle",
            "labelPadding": 21,
            "title": "T\u2022/",
            "titleFont": "Inter",
            "titleFontSize": 42,
            "titleFontWeight": 900,
            "titleColor": "#131722",
            "titleAngle": 0,
            "titleAlign": "left",
            "titleBaseline": "middle",
            "titleX": -2687,
            "titleY": 1620
          }
        },
        "y2": {"field": "h"}
      }
    },
    {
      "data": {"name": "ohlc"},
      "mark": {"type": "bar", "size": 4, "stroke": "#000000", "strokeWidth": 1},
      "encoding": {
        "x": {"field": "t", "type": "temporal"},
        "y": {"field": "o", "type": "quantitative"},
        "y2": {"field": "c"},
        "fill": {"condition": {"test": "datum.c >= datum.o", "value": "#00e600"}, "value": "#ff0000"}
      }
    },
    {
      "data": {"values": [{"a": "2007-03-22", "b": "2027-10-10", "p": 118.3}]},
      "mark": {"type": "rule", "color": "#ff0000", "strokeWidth": 8, "strokeCap": "round"},
      "encoding": {
        "x": {"field": "a", "type": "temporal"},
        "x2": {"field": "b"},
        "y": {"field": "p", "type": "quantitative"}
      }
    },
    {
      "data": {"values": [{"d": "2003-04-01"}]},
      "mark": {"type": "rule", "color": "#7a00d2", "strokeWidth": 3.5},
      "encoding": {"x": {"field": "d", "type": "temporal"}}
    },
    {
      "data": {"values": [{"d": "2025-12-01"}]},
      "mark": {"type": "rule", "color": "#000000", "strokeWidth": 4},
      "encoding": {"x": {"field": "d", "type": "temporal"}}
    },
    {
      "data": {"values": [{"a": "2002-07-09", "b": "2003-12-25", "top": 39.66, "bot": 32.93}]},
      "mark": {"type": "rect", "color": "#7a00d2", "cornerRadius": 7},
      "encoding": {
        "x": {"field": "a", "type": "temporal"},
        "x2": {"field": "b"},
        "y": {"field": "top", "type": "quantitative"},
        "y2": {"field": "bot"}
      }
    },
    {
      "data": {"values": [{"d": "2003-04-01", "p": 33.3, "w": 26}, {"d": "2003-04-01", "p": 31.76, "w": 0}]},
      "mark": {"type": "trail", "color": "#7a00d2"},
      "encoding": {
        "x": {"field": "d", "type": "temporal"},
        "y": {"field": "p", "type": "quantitative"},
        "size": {"field": "w", "type": "quantitative", "scale": null, "legend": null}
      }
    },
    {
      "data": {"values": [{"d": "2003-04-01", "p": 37.28, "txt": "Iraq War\nStart"}]},
      "mark": {"type": "text", "color": "#ffffff", "font": "Inter", "fontSize": 22, "lineBreak": "\n", "lineHeight": 27, "align": "center", "baseline": "middle"},
      "encoding": {
        "x": {"field": "d", "type": "temporal"},
        "y": {"field": "p", "type": "quantitative"},
        "text": {"field": "txt"}
      }
    },
    {
      "data": {"values": [{"a": "2024-12-16", "b": "2026-11-15", "top": 176.1, "bot": 143.8}]},
      "mark": {"type": "rect", "color": "#000000", "cornerRadius": 14},
      "encoding": {
        "x": {"field": "a", "type": "temporal"},
        "x2": {"field": "b"},
        "y": {"field": "top", "type": "quantitative"},
        "y2": {"field": "bot"}
      }
    },
    {
      "data": {"values": [{"d": "2025-12-01", "p": 144.5, "w": 34}, {"d": "2025-12-01", "p": 108.8, "w": 0}]},
      "mark": {"type": "trail", "color": "#000000"},
      "encoding": {
        "x": {"field": "d", "type": "temporal"},
        "y": {"field": "p", "type": "quantitative"},
        "size": {"field": "w", "type": "quantitative", "scale": null, "legend": null}
      }
    },
    {
      "data": {"values": [{"d": "2025-12-01", "p": 163.1, "txt": "US-Iran War\nStart"}]},
      "mark": {"type": "text", "color": "#ffffff", "font": "Inter", "fontSize": 22, "lineBreak": "\n", "lineHeight": 22, "align": "center", "baseline": "middle"},
      "encoding": {
        "x": {"field": "d", "type": "temporal"},
        "y": {"field": "p", "type": "quantitative"},
        "text": {"field": "txt"}
      }
    },
    {
      "data": {"values": [{"a": "2027-12-27", "b": "2029-03-10", "top": 73.65, "bot": 63.5}]},
      "mark": {"type": "rect", "color": "#ff0000", "cornerRadius": 3},
      "encoding": {
        "x": {"field": "a", "type": "temporal"},
        "x2": {"field": "b"},
        "y": {"field": "top", "type": "quantitative"},
        "y2": {"field": "bot"}
      }
    },
    {
      "data": {"values": [
        {"d": "2028-03-05", "p": 70.78, "txt": "70.78", "op": 1},
        {"d": "2028-03-05", "p": 66.3, "txt": "29d 7h", "op": 0.8}
      ]},
      "mark": {"type": "text", "color": "#ffffff", "font": "Inter", "fontSize": 24, "align": "left", "baseline": "middle"},
      "encoding": {
        "x": {"field": "d", "type": "temporal"},
        "y": {"field": "p", "type": "quantitative"},
        "text": {"field": "txt"},
        "opacity": {"field": "op", "type": "quantitative", "scale": null, "legend": null}
      }
    },
    {
      "data": {"values": [{"a": "2024-09-09", "b": "2027-02-21", "top": 8.36, "bot": 7.45}]},
      "mark": {"type": "rect", "color": "#000000", "cornerRadius": 4},
      "encoding": {
        "x": {"field": "a", "type": "temporal"},
        "x2": {"field": "b"},
        "y": {"field": "top", "type": "quantitative"},
        "y2": {"field": "bot"}
      }
    },
    {
      "data": {"values": [{"d": "2025-12-01", "p": 7.89, "txt": "Mon 01 Dec '25"}]},
      "mark": {"type": "text", "color": "#ffffff", "font": "Inter", "fontSize": 24, "align": "center", "baseline": "middle"},
      "encoding": {
        "x": {"field": "d", "type": "temporal"},
        "y": {"field": "p", "type": "quantitative"},
        "text": {"field": "txt"}
      }
    }
  ]
}
